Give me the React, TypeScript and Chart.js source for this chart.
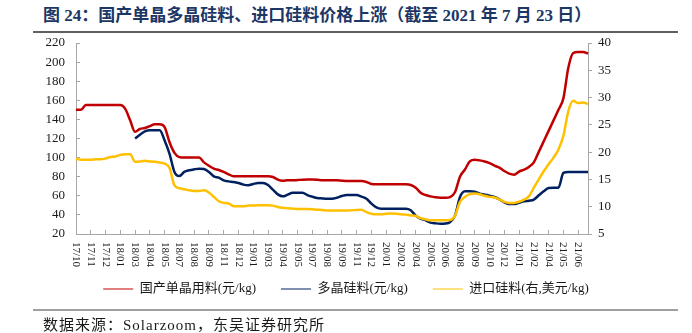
import React, { useEffect, useRef } from 'react';
import { Chart, registerables } from 'chart.js';

Chart.register(...registerables);

// Tick labels shown on the category axis (one every 3 data points)
const tickLabels = ['17/10', '17/11', '17/12', '18/01', '18/03', '18/04', '18/05', '18/07', '18/08', '18/09', '18/11', '18/12', '19/01', '19/03', '19/04', '19/05', '19/07', '19/08', '19/09', '19/11', '19/12', '20/01', '20/02', '20/04', '20/05', '20/06', '20/08', '20/09', '20/10', '20/12', '21/01', '21/02', '21/04', '21/05', '21/06'];
const pointsPerTick = 3;

// 国产单晶用料 (元/kg)
const monoSilicon = [
  150, 150, 155, 155, 155, 155, 155, 155, 155, 155,
  151, 139, 127, 130, 131, 133, 135, 135, 132, 116,
  105, 100.5, 100, 100, 100, 100, 95, 91.5, 88.5, 87,
  85, 82.5, 80.5, 80.5, 80.5, 80.5, 80.5, 80.5, 80.5, 80.5,
  79.7, 77, 75.8, 76.2, 76.2, 76.5, 76.9, 77, 77, 76.9,
  76.2, 76.2, 76.2, 76.2, 75.8, 75.5, 75.5, 75.5, 75.5, 74.5,
  72.4, 72, 72, 72, 72, 72, 72, 72, 71.3, 68.5,
  63.3, 60.8, 59.4, 58.4, 58, 58, 58.7, 64, 80, 87.5,
  96, 97.8, 97.1, 96, 94.3, 91.6, 89.5, 86, 83.2, 82.1,
  85.3, 87.4, 90.2, 95, 106, 117, 128, 139, 150, 162,
  194, 209.5, 210.5, 210.5, 209
];

// 多晶硅料 (元/kg)
const polySilicon = [
  null, null, null, null, null, null, null, null, null, null,
  null, null, 120, 124, 127.5, 128.6, 128.6, 128.6, 118, 104,
  85, 80.7, 85, 86.7, 87.7, 88.4, 88, 85, 80.4, 79,
  76.2, 75.1, 74.5, 73.4, 71.7, 71, 72.4, 73.4, 73.4, 71.3,
  66.4, 61.5, 59.4, 61.2, 63.3, 63.3, 63.3, 60.8, 59.1, 57.7,
  57.3, 57, 57, 58, 59.8, 60.8, 60.8, 60.8, 59.1, 57,
  51.8, 47.9, 46.5, 46.5, 46.5, 46.5, 46.5, 46.5, 44.8, 39.2,
  36, 34.3, 31.9, 31.2, 30.8, 31, 32.6, 39.5, 58.7, 64.7,
  64.7, 64.3, 62.2, 61.2, 60.1, 58.7, 56.3, 53.2, 51.4, 51.4,
  52.8, 54.2, 54.9, 56, 60.5, 64.7, 68.2, 68.5, 68.5, 84,
  85, 85, 85, 85, 85
];

// 进口硅料 (右, 美元/kg)
const importSilicon = [
  18.8, 18.6, 18.6, 18.6, 18.7, 18.7, 18.85, 19.1, 19.2, 19.5,
  19.6, 19.6, 18.25, 18.3, 18.4, 18.3, 18.25, 18.1, 17.9, 17.1,
  13.9, 13.4, 13.2, 13.0, 12.9, 12.9, 13.0, 12.6, 11.8, 11.0,
  10.7, 10.6, 10.1, 10.1, 10.1, 10.2, 10.2, 10.25, 10.25, 10.25,
  10.2, 9.95, 9.8, 9.7, 9.65, 9.6, 9.6, 9.6, 9.55, 9.45,
  9.4, 9.3, 9.3, 9.3, 9.3, 9.3, 9.35, 9.4, 9.45, 9.0,
  8.7, 8.6, 8.6, 8.7, 8.75, 8.7, 8.6, 8.55, 8.4, 8.3,
  7.9, 7.7, 7.5, 7.5, 7.5, 7.5, 7.55, 8.4, 10.9, 11.8,
  12.3, 12.4, 12.3, 12.0, 11.8, 11.7, 11.35, 10.9, 10.7, 10.7,
  10.9, 11.3, 11.9, 13.5, 15.0, 16.5, 17.8, 19.0, 20.5, 23.0,
  27.5, 29.4, 29.0, 29.1, 28.8
];

const seriesNames = ['国产单晶用料(元/kg)', '多晶硅料(元/kg)', '进口硅料(右,美元/kg)'];
const seriesColors = ['#C00000', '#002060', '#FFC000'];

const titleText = '图 24：国产单晶多晶硅料、进口硅料价格上涨（截至 2021 年 7 月 23 日）';
const sourceText = '数据来源：Solarzoom，东吴证券研究所';

const FONT = '"Liberation Serif", "Times New Roman", "Noto Sans CJK SC", serif';
const AXIS_COLOR = '#a6a6a6';
const TEXT_COLOR = '#1a1a1a';

const categories = monoSilicon.map((_, i) =>
  i % pointsPerTick === 0 && tickLabels[i / pointsPerTick] ? tickLabels[i / pointsPerTick] : ''
);

const xLabelPlugin = {
  id: 'verticalXLabels',
  afterDraw(chart: any) {
    const xs = chart.scales.x;
    const ctx = chart.ctx;
    ctx.save();
    ctx.font = '11px ' + FONT;
    ctx.fillStyle = TEXT_COLOR;
    ctx.textAlign = 'left';
    ctx.textBaseline = 'middle';
    tickLabels.forEach((t, k) => {
      const px = xs.getPixelForValue(k * pointsPerTick);
      ctx.save();
      ctx.translate(px, xs.top + 8);
      ctx.rotate(Math.PI / 2);
      ctx.fillText(t, 0, 0);
      ctx.restore();
    });
    ctx.restore();
  },
};

export default function App() {
  const ref = useRef<HTMLCanvasElement>(null);

  useEffect(() => {
    if (!ref.current) return;
    const chart = new Chart(ref.current, {
      type: 'line',
      data: {
        labels: categories,
        datasets: [
          {
            label: seriesNames[0],
            data: monoSilicon,
            borderColor: seriesColors[0],
            backgroundColor: seriesColors[0],
            yAxisID: 'y',
            order: 3,
          },
          {
            label: seriesNames[1],
            data: polySilicon,
            borderColor: seriesColors[1],
            backgroundColor: seriesColors[1],
            yAxisID: 'y',
            order: 2,
          },
          {
            label: seriesNames[2],
            data: importSilicon,
            borderColor: seriesColors[2],
            backgroundColor: seriesColors[2],
            yAxisID: 'y1',
            order: 1,
          },
        ],
      },
      options: {
        responsive: false,
        maintainAspectRatio: false,
        animation: false,
        devicePixelRatio: 1,
        layout: { padding: { top: 43, bottom: 27.5, left: 0, right: 0 } },
        elements: {
          line: { borderWidth: 2.5, tension: 0, cubicInterpolationMode: 'monotone', fill: false },
          point: { radius: 0, hoverRadius: 0 },
        },
        plugins: {
          tooltip: { enabled: false },
          legend: {
            position: 'bottom',
            labels: {
              usePointStyle: true,
              pointStyle: 'line',
              pointStyleWidth: 30,
              padding: 25,
              color: TEXT_COLOR,
              font: { size: 13, family: FONT },
              sort: (a: any, b: any) => a.datasetIndex - b.datasetIndex,
            },
          },
        },
        scales: {
          x: {
            type: 'category',
            offset: false,
            grid: {
              drawOnChartArea: false,
              drawTicks: true,
              tickLength: -4,
              color: (c: any) => (c.index % pointsPerTick === 0 ? AXIS_COLOR : 'rgba(0,0,0,0)'),
            },
            border: { display: true, color: AXIS_COLOR, width: 1 },
            ticks: { display: false, autoSkip: false },
            afterFit: (s: any) => {
              s.height = 23.5;
            },
          },
          y: {
            position: 'left',
            min: 20,
            max: 220,
            ticks: { stepSize: 20, padding: 15, color: TEXT_COLOR, font: { size: 13, family: FONT } },
            grid: { drawOnChartArea: false, tickLength: -4, color: AXIS_COLOR },
            border: { display: true, color: AXIS_COLOR, width: 1 },
            afterFit: (s: any) => {
              s.width = 76;
            },
          },
          y1: {
            position: 'right',
            min: 5,
            max: 40,
            ticks: { stepSize: 5, padding: 6, color: TEXT_COLOR, font: { size: 13, family: FONT } },
            grid: { drawOnChartArea: false, tickLength: 4, color: AXIS_COLOR },
            border: { display: true, color: AXIS_COLOR, width: 1 },
            afterFit: (s: any) => {
              s.width = 104;
            },
          },
        },
      },
      plugins: [xLabelPlugin],
    } as any);
    return () => chart.destroy();
  }, []);

  return (
    <div style={{ position: 'absolute', left: 0, top: 0, width: 692, height: 333, background: '#fff', overflow: 'hidden' }}>
      <div
        style={{
          position: 'absolute',
          left: 43,
          top: 7,
          whiteSpace: 'nowrap',
          font: 'bold 17px ' + FONT,
          lineHeight: '18px',
          color: '#1c3766',
        }}
      >
        {titleText}
      </div>
      <div style={{ position: 'absolute', left: 33, top: 31, width: 645, height: 2, background: '#606060' }} />
      <canvas ref={ref} width={692} height={333} style={{ position: 'absolute', left: 0, top: 0, display: 'block' }} />
      <div style={{ position: 'absolute', left: 33, top: 309, width: 645, height: 2, background: '#a0a0a0' }} />
      <div
        style={{
          position: 'absolute',
          left: 43,
          top: 317,
          whiteSpace: 'nowrap',
          font: '15px ' + FONT,
          lineHeight: '16px',
          letterSpacing: '1px',
          color: TEXT_COLOR,
        }}
      >
        {sourceText}
      </div>
    </div>
  );
}
